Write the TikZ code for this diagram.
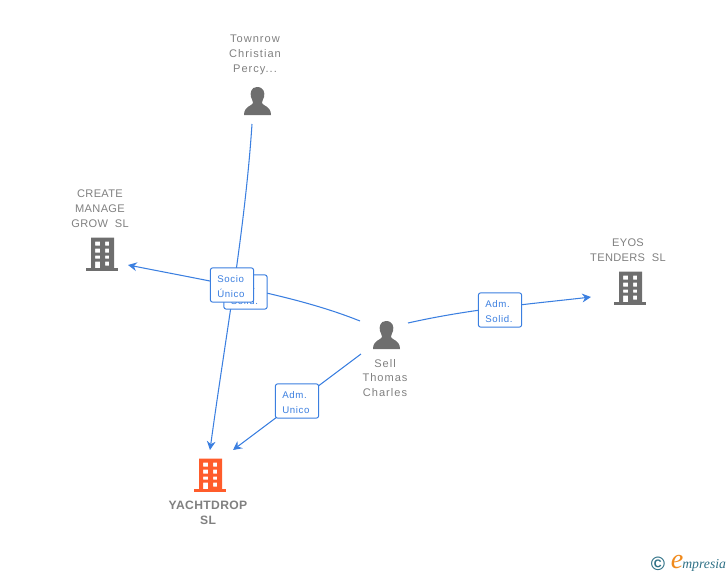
\documentclass[tikz,border=0pt]{standalone}
\usepackage{fontspec}
\setmainfont{Liberation Sans}
\newfontfamily\logofont{Liberation Serif}
\newfontfamily\widefont[LetterSpace=9]{Liberation Sans}
\newfontfamily\capsfont[LetterSpace=3]{Liberation Sans}
\newfontfamily\boxfont[LetterSpace=6]{Liberation Sans}
\usetikzlibrary{arrows.meta}
\definecolor{icongray}{HTML}{6E6E6E}
\definecolor{textgray}{HTML}{808080}
\definecolor{linkblue}{HTML}{3B7FE0}
\definecolor{maincolor}{HTML}{FF5C2B}
\definecolor{logoteal}{HTML}{2F7186}
\definecolor{logoorange}{HTML}{F08A1D}
\newcommand{\toppad}{\rule{0pt}{5.4pt}}
\tikzset{
  nametext/.style={text=textgray,font=\widefont\fontsize{6.3pt}{8.5pt}\selectfont,align=center,inner sep=0pt},
  capsname/.style={nametext,font=\capsfont\fontsize{6.3pt}{8.5pt}\selectfont},
  mainname/.style={nametext,font=\capsfont\fontsize{6.9pt}{8.5pt}\selectfont\bfseries},
  linkbox/.style={draw=linkblue,fill=white,rounded corners=1.2pt,line width=0.55pt,minimum height=19.4pt,inner xsep=4pt,inner ysep=0pt,text width=16.6pt,text=linkblue,font=\boxfont\fontsize{5.5pt}{8.5pt}\selectfont,align=left},
  link/.style={draw=linkblue,line width=0.6pt,-{Stealth[length=5pt,width=5pt]}},
  pics/building/.style={code={
    \fill[#1,even odd rule] (-11,-17) rectangle (12,14)
      (-7,-13) rectangle (-2,-9) (3,-13) rectangle (7,-9)
      (-7,-6) rectangle (-2,-2) (3,-6) rectangle (7,-2)
      (-7,1) rectangle (-2,4) (3,1) rectangle (7,4)
      (-7,7) rectangle (-2,14) (3,7) rectangle (7,11);
    \fill[#1] (-16,13) rectangle (16,16);
  }},
  pics/person/.style={code={
    \fill[#1] (0,-15) .. controls (-6,-15) and (-7,-9) .. (-6,-5)
      .. controls (-5,-2) and (-4,-1) .. (-4,1)
      .. controls (-5,4) and (-13,4) .. (-13,13) -- (14,13)
      .. controls (14,4) and (6,4) .. (5,1)
      .. controls (5,-1) and (6,-2) .. (7,-5)
      .. controls (8,-9) and (7,-15) .. (0,-15) -- cycle;
  }}
}
\begin{document}
\begin{tikzpicture}[x=0.02cm,y=-0.02cm]
\useasboundingbox (0,0) rectangle (728,575);

% icons
\pic at (102,254.5) {building=icongray};
\pic at (630,288.5) {building=icongray};
\pic at (210,475.5) {building=maincolor};
\pic at (257,102) {person=icongray};
\pic at (386,336) {person=icongray};

% names
\node[nametext] (townrow) at (255,55) {Townrow\\Christian\\Percy...};
\node[capsname] (create) at (100,209) {CREATE\\MANAGE\\GROW\ \ SL};
\node[capsname] (eyos) at (628,250.5) {EYOS\\TENDERS\ \ SL};
\node[nametext] (sell) at (385,378) {Sell\\Thomas\\Charles};
\node[mainname] (yacht) at (208,513) {YACHTDROP\\SL};

% free ends
\coordinate (townrowout) at (252,124);
\coordinate (yachtin1) at (210,450);
\coordinate (yachtin2) at (233,450);
\coordinate (sellout1) at (360,321);
\coordinate (sellout2) at (408,323);
\coordinate (sellout3) at (361,354);
\coordinate (createin) at (128,265);
\coordinate (eyosin) at (591,297);

\path[link] (townrowout) .. controls (245,230) and (225,340) .. (yachtin1);
\path[link] (sellout1) .. controls (300,297) and (230,285) .. (createin);
\path[link] (sellout2) .. controls (470,309) and (530,304) .. (eyosin);
\path[link] (sellout3) -- (yachtin2);

% labels
\node[linkbox] (adm1) at (245.5,292) {\toppad Adm.\\Solid.};
\node[linkbox] (socio) at (232,285) {\toppad Socio\\Único};
\node[linkbox] (adm2) at (500,310) {\toppad Adm.\\Solid.};
\node[linkbox] (adm3) at (297,401) {\toppad Adm.\\Unico};

% logo
\node[inner sep=0pt,text=logoteal,font=\bfseries\fontsize{11pt}{11pt}\selectfont] (copy) at (658,564) {©};
\node[inner sep=0pt,text=logoorange,font=\logofont\itshape\fontsize{16pt}{16pt}\selectfont] (logoe) at (677,562) {e};
\node[inner sep=0pt,text=logoteal,font=\logofont\itshape\fontsize{7.8pt}{8pt}\selectfont,anchor=west] (logo) at (682,565) {mpresia};
\end{tikzpicture}
\end{document}
